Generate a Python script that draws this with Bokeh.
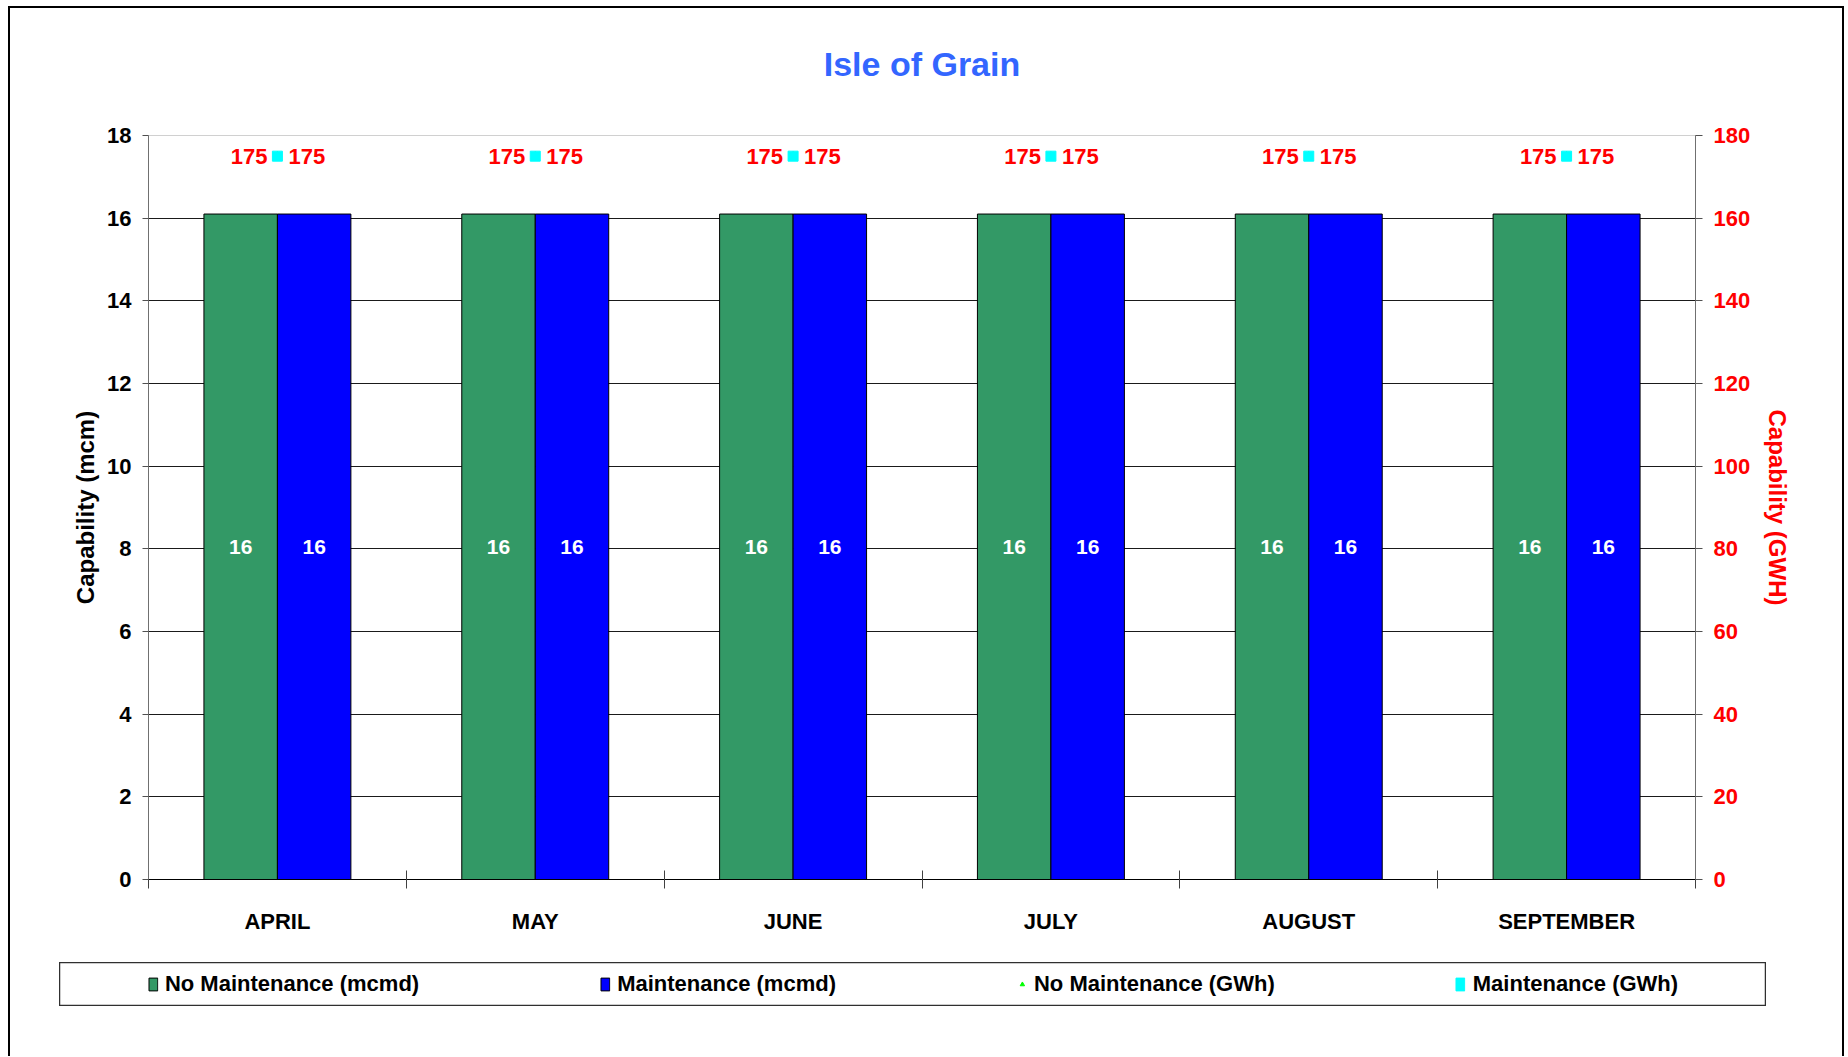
from bokeh.plotting import figure
from bokeh.models import (ColumnDataSource, Range1d, LinearAxis,
                          FixedTicker, Legend, LegendItem, Title)
from bokeh.transform import dodge
from bokeh.layouts import column
from bokeh.core.properties import value
from bokeh.embed import file_html
from bokeh.resources import INLINE

# ---------------- data ----------------
months = ["APRIL", "MAY", "JUNE", "JULY", "AUGUST", "SEPTEMBER"]
no_maint_mcmd = [16.1, 16.1, 16.1, 16.1, 16.1, 16.1]
maint_mcmd = [16.1, 16.1, 16.1, 16.1, 16.1, 16.1]
no_maint_gwh = [175, 175, 175, 175, 175, 175]
maint_gwh = [175, 175, 175, 175, 175, 175]
left_ticks = [0, 2, 4, 6, 8, 10, 12, 14, 16, 18]
right_ticks = [0, 20, 40, 60, 80, 100, 120, 140, 160, 180]

FONT = "Liberation Sans"
GREEN = "#339966"
BLUE = "#0000FF"
RED = "#FF0000"
LIME = "#00FF00"
CYAN = "#00FFFF"

centers = [i + 0.5 for i in range(len(months))]
edges = list(range(len(months) + 1))

src = ColumnDataSource(dict(
    xc=centers,
    nm=no_maint_mcmd, m=maint_mcmd,
    nm_mid=[v / 2 for v in no_maint_mcmd], m_mid=[v / 2 for v in maint_mcmd],
    nm_lbl=[f"{v:.0f}" for v in no_maint_mcmd], m_lbl=[f"{v:.0f}" for v in maint_mcmd],
    nmg=no_maint_gwh, mg=maint_gwh,
    nmg_lbl=[f"{v:.0f}" for v in no_maint_gwh], mg_lbl=[f"{v:.0f}" for v in maint_gwh],
))

p = figure(width=1832, height=940, x_range=Range1d(edges[0], edges[-1]),
           y_range=Range1d(left_ticks[0], left_ticks[-1]), title=None,
           x_axis_location=None, y_axis_location="left",
           toolbar_location=None, output_backend="svg",
           min_border_left=138, min_border_right=147, min_border_top=127, min_border_bottom=69)
p.extra_y_ranges = {"gwh": Range1d(right_ticks[0], right_ticks[-1])}
p.background_fill_color = "white"
p.border_fill_color = "white"
p.outline_line_color = "#d0d0d0"
p.outline_line_width = 1

# title: a thin spacer next to the frame, then the real title above it
spacer = Title(text=" ", text_font_size="2px", standoff=44)
p.add_layout(spacer, "above")
main_title = Title(text="Isle of Grain", align="center", text_font=FONT, text_font_style="bold",
                   text_font_size="34px", text_color="#3366FF", standoff=10)
p.add_layout(main_title, "above")

# left axis
ya = p.yaxis[0]
ya.ticker = FixedTicker(ticks=left_ticks)
ya.axis_line_color = "#707070"
ya.major_tick_line_color = "#505050"
ya.major_tick_in = 0
ya.major_tick_out = 6
ya.minor_tick_line_color = None
ya.major_label_standoff = 11
ya.major_label_text_font = FONT
ya.major_label_text_font_style = "bold"
ya.major_label_text_font_size = "22px"
ya.major_label_text_color = "black"
ya.axis_label = "Capability (mcm)"
ya.axis_label_text_font = FONT
ya.axis_label_text_font_style = "bold"
ya.axis_label_text_font_size = "24px"
ya.axis_label_text_color = "black"
ya.axis_label_standoff = 5

# right axis
ra = LinearAxis(y_range_name="gwh", ticker=FixedTicker(ticks=right_ticks))
ra.axis_line_color = "#707070"
ra.major_tick_line_color = "#505050"
ra.major_tick_in = 0
ra.major_tick_out = 7
ra.minor_tick_line_color = None
ra.major_label_standoff = 11
ra.major_label_text_font = FONT
ra.major_label_text_font_style = "bold"
ra.major_label_text_font_size = "22px"
ra.major_label_text_color = RED
ra.axis_label = "Capability (GWH)"
ra.axis_label_text_font = FONT
ra.axis_label_text_font_style = "bold"
ra.axis_label_text_font_size = "24px"
ra.axis_label_text_color = RED
ra.axis_label_standoff = 11
p.add_layout(ra, "right")

# bottom: boundary ticks axis then month labels axis
ea = LinearAxis(ticker=FixedTicker(ticks=edges))
ea.major_label_overrides = {e: "" for e in edges}
ea.major_label_text_font_size = "1px"
ea.major_label_standoff = 0
ea.axis_line_color = "black"
ea.major_tick_line_color = "#404040"
ea.major_tick_in = 9
ea.major_tick_out = 9
ea.minor_tick_line_color = None
p.add_layout(ea, "below")

ca = LinearAxis(ticker=FixedTicker(ticks=centers))
ca.major_label_overrides = {c: m for c, m in zip(centers, months)}
ca.axis_line_color = None
ca.major_tick_line_color = None
ca.major_tick_out = 0
ca.major_tick_in = 0
ca.minor_tick_line_color = None
ca.major_label_standoff = 20
ca.major_label_text_font = FONT
ca.major_label_text_font_style = "bold"
ca.major_label_text_font_size = "22px"
ca.major_label_text_color = "black"
p.add_layout(ca, "below")

# grid
p.ygrid.ticker = FixedTicker(ticks=left_ticks[1:-1])
p.ygrid.grid_line_color = "#1a1a1a"
p.ygrid.grid_line_width = 1
p.xgrid.visible = False

# bars
BW = 0.285
p.vbar(x=dodge("xc", -BW / 2), top="nm", width=BW, source=src,
       fill_color=GREEN, line_color="black", line_width=1)
p.vbar(x=dodge("xc", BW / 2), top="m", width=BW, source=src,
       fill_color=BLUE, line_color="black", line_width=1)

txt = dict(text_font=value(FONT), text_font_style="bold", text_font_size="21px",
           text_baseline="middle")
p.text(x=dodge("xc", -BW / 2), y="nm_mid", text="nm_lbl", source=src,
       text_align="center", text_color="white", **txt)
p.text(x=dodge("xc", BW / 2), y="m_mid", text="m_lbl", source=src,
       text_align="center", text_color="white", **txt)

# GWh series on right axis
p.scatter(x="xc", y="nmg", y_range_name="gwh", source=src, marker="triangle", size=8,
          fill_color=LIME, line_color=LIME)
p.scatter(x="xc", y="mg", y_range_name="gwh", source=src, marker="square", size=10,
          fill_color=CYAN, line_color=CYAN)
txt2 = dict(text_font=value(FONT), text_font_style="bold", text_font_size="22px",
            text_baseline="middle", text_color=RED)
p.text(x="xc", y="nmg", y_range_name="gwh", text="nmg_lbl", source=src,
       text_align="right", x_offset=-10, **txt2)
p.text(x="xc", y="mg", y_range_name="gwh", text="mg_lbl", source=src,
       text_align="left", x_offset=11, **txt2)

# ---------------- legend box (separate small figure; its series sit outside its view) ----------------
lf = figure(width=1707, height=44, x_range=Range1d(-20, -19), y_range=Range1d(-20, -19),
            x_axis_location=None, y_axis_location=None, toolbar_location=None,
            output_backend="svg", min_border=0,
            min_border_left=0, min_border_right=0, min_border_top=0, min_border_bottom=0,
            margin=(14, 0, 50, 49))
for fig in (p, lf):
    if "frame_align" in fig.properties():
        fig.frame_align = False
lf.grid.visible = False
lf.outline_line_color = "#303030"
lf.outline_line_width = 1.5
lf.background_fill_color = "white"
lf.border_fill_color = "white"
r1 = lf.vbar(x="xc", top="nm", width=BW, source=src, fill_color=GREEN, line_color="black")
r2 = lf.vbar(x="xc", top="m", width=BW, source=src, fill_color=BLUE, line_color="black")
r3 = lf.scatter(x="xc", y="nmg", source=src, marker="triangle",
                fill_color=LIME, line_color=LIME)
r4 = lf.vbar(x="xc", top="mg", width=BW, source=src, fill_color=CYAN, line_color=CYAN)
leg = Legend(items=[LegendItem(label="No Maintenance (mcmd)", renderers=[r1]),
                    LegendItem(label="Maintenance (mcmd)", renderers=[r2]),
                    LegendItem(label="No Maintenance (GWh)", renderers=[r3]),
                    LegendItem(label="Maintenance (GWh)", renderers=[r4])],
             location="center", orientation="horizontal", spacing=180,
             glyph_width=11, glyph_height=16, label_standoff=7, padding=0, margin=0,
             border_line_color=None, background_fill_alpha=0,
             label_text_font=FONT, label_text_font_style="bold",
             label_text_font_size="22px", label_text_color="black")
lf.add_layout(leg, "center")

layout = column(p, lf, margin=(6, 0, 0, 8),
                styles={"border-top": "2px solid #000", "border-left": "2px solid #000",
                        "border-right": "2px solid #000"})

open("out.html", "w").write(file_html(layout, INLINE))
